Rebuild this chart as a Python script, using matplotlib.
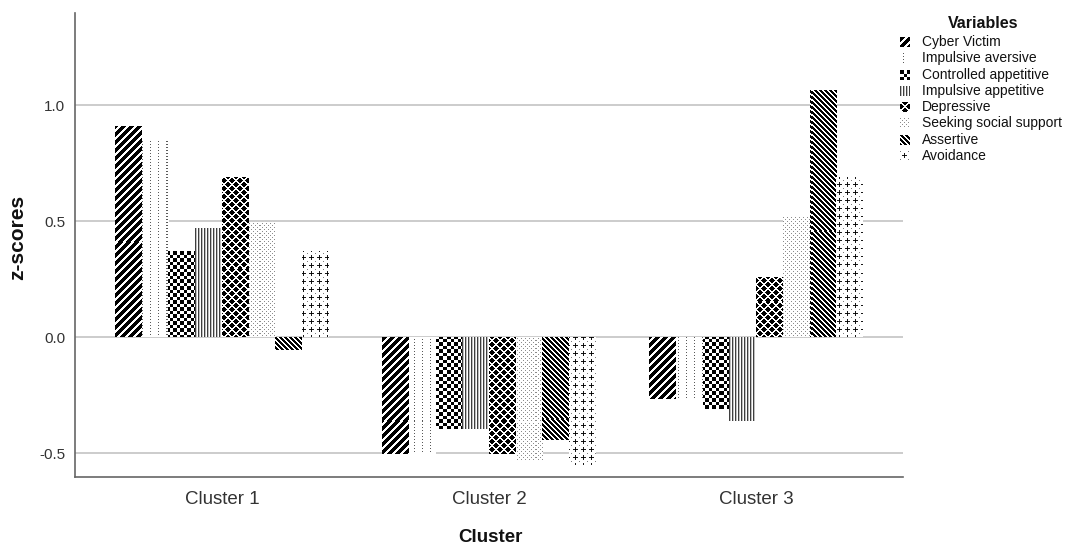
import numpy as np
import matplotlib
matplotlib.use('Agg')
import matplotlib.pyplot as plt

# ---------------- data ----------------
clusters = ['Cluster 1', 'Cluster 2', 'Cluster 3']
variables = ['Cyber Victim', 'Impulsive aversive', 'Controlled appetitive',
             'Impulsive appetitive', 'Depressive', 'Seeking social support',
             'Assertive', 'Avoidance']
cyber_victim = [0.91, -0.505, -0.265]
impulsive_aversive = [0.85, -0.505, -0.27]
controlled_appetitive = [0.37, -0.395, -0.31]
impulsive_appetitive = [0.47, -0.395, -0.36]
depressive = [0.69, -0.505, 0.26]
seeking_social_support = [0.49, -0.535, 0.52]
assertive = [-0.055, -0.445, 1.065]
avoidance = [0.37, -0.55, 0.69]
series = [cyber_victim, impulsive_aversive, controlled_appetitive,
          impulsive_appetitive, depressive, seeking_social_support,
          assertive, avoidance]
yticks = [-0.5, 0.0, 0.5, 1.0]
ytick_labels = ['-0.5', '0.0', '0.5', '1.0']

# ---------------- layout ----------------
plt.rcParams['font.family'] = ['Liberation Sans', 'DejaVu Sans']
FW, FH, DPI = 1065, 546, 100
fig = plt.figure(figsize=(FW / DPI, FH / DPI), dpi=DPI)
L, R, T, B = 75, 903, 13, 477
ax = fig.add_axes([L / FW, 1 - B / FH, (R - L) / FW, (B - T) / FH])
XLIM = (-0.55, 2.55)
YLIM = (-0.603, 1.397)
W, H = R - L, B - T


def pattern(k, X, Y):
    g = np.ones(X.shape)
    if k == 0:      # thick '/' stripes
        g[((X + Y) % 8) < 5] = 0.0
    elif k == 1:    # dotted vertical lines
        g[((X % 8) == 3) & ((Y % 3) == 0)] = 0.35
    elif k == 2:    # checkerboard
        g[((np.floor(X / 3.5) + np.floor(Y / 3.5)) % 2) == 0] = 0.0
    elif k == 3:    # vertical lines
        g[(X % 3) == 0] = 0.25
        g[(X % 3) == 1] = 0.75
    elif k == 4:    # black with white diagonal lattice
        g[:] = 0.0
        g[((X + Y) % 8 < 2) | ((X - Y) % 8 < 2)] = 1.0
    elif k == 5:    # fine light dots
        g[((X % 4 == 0) & (Y % 4 == 0)) | ((X % 4 == 2) & (Y % 4 == 2))] = 0.55
    elif k == 6:    # '\' stripes
        g[((X - Y) % 5) < 3] = 0.0
    elif k == 7:    # plus signs
        xm, ym = X % 8, Y % 8
        g[((xm == 4) & (np.abs(ym - 4) <= 2)) | ((ym == 4) & (np.abs(xm - 4) <= 2))] = 0.1
        g[((xm == 4) & (ym == 4))] = 0.0
        g[(xm == 0) & (ym == 0)] = 0.5
    return np.dstack([g, g, g])


Yg, Xg = np.mgrid[0:H, 0:W]
patterns = [pattern(k, Xg, Yg) for k in range(len(series))]

x = np.arange(len(clusters))
bw = 0.1
for j, vals in enumerate(series):
    pos = x + (j - (len(series) - 1) / 2) * bw
    bars = ax.bar(pos, vals, width=bw, facecolor='none', edgecolor='none',
                  linewidth=0, zorder=2, label=variables[j])
    for bar in bars:
        im = ax.imshow(patterns[j], extent=(XLIM[0], XLIM[1], YLIM[0], YLIM[1]),
                       origin='upper', interpolation='nearest', aspect='auto',
                       zorder=2)
        im.set_clip_path(bar)

ax.set_xlim(*XLIM)
ax.set_ylim(*YLIM)
ax.set_xticks(x)
ax.set_xticklabels(clusters, fontsize=13.5, color='#333333')
ax.set_yticks(yticks)
ax.set_yticklabels(ytick_labels, fontsize=11, color='#333333')
ax.tick_params(axis='both', length=0)
ax.tick_params(axis='x', pad=10)
ax.tick_params(axis='y', pad=7)
ax.set_axisbelow(True)
ax.yaxis.grid(True, color='#c4c4c4', linewidth=1.2)
for s in ['top', 'right']:
    ax.spines[s].set_visible(False)
for s in ['left', 'bottom']:
    ax.spines[s].set_color('#666666')
    ax.spines[s].set_linewidth(1.2)

fig.text(490 / FW, 1 - 537 / FH, 'Cluster', fontsize=13.5, fontweight='bold',
         ha='center', va='center', color='#111111')
fig.text(18 / FW, 1 - 237 / FH, 'z-scores', fontsize=15, fontweight='bold',
         ha='center', va='center', rotation=90, color='#111111')

# ---------------- legend ----------------
fig.text(983 / FW, 1 - 23 / FH, 'Variables', fontsize=11.5, fontweight='bold',
         ha='center', va='center', color='#111111')
for j, name in enumerate(variables):
    yc = 42 + j * 16.3
    sw = patterns[j][0:10, 0:10]
    fig.figimage(sw, xo=900, yo=int(round(FH - yc - 5)), origin='upper', zorder=3)
    fig.text(922 / FW, 1 - yc / FH, name, fontsize=10, ha='left', va='center',
             color='#111111')

fig.savefig('out.png', dpi=DPI)
